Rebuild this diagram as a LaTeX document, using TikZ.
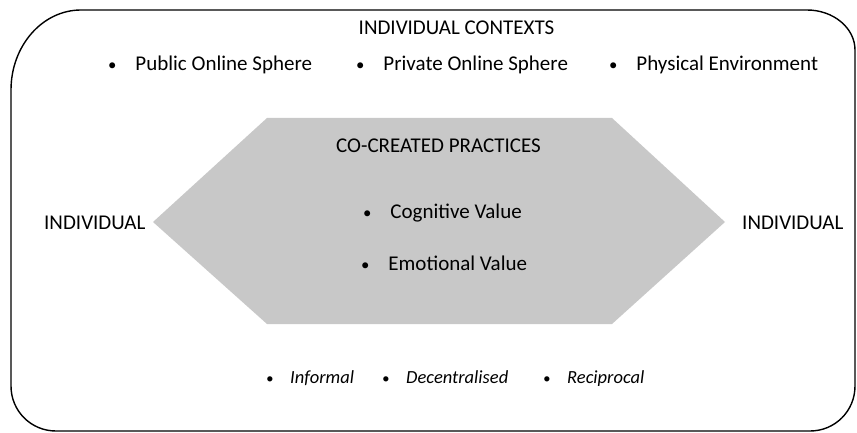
\documentclass[tikz,border=0pt]{standalone}
\usepackage{fontspec}
\setmainfont{Carlito}
\definecolor{HexGrey}{RGB}{200,200,200}
\tikzstyle{none}=[inner sep=0pt,font=\fontsize{21}{25}\selectfont]
\tikzstyle{quality}=[inner sep=0pt,font=\fontsize{18.5}{22}\selectfont\itshape]
\tikzstyle{frame}=[draw=black,line width=1.4pt]
\tikzstyle{hexagon}=[fill=HexGrey,draw=none]
\newcommand{\itm}{\scalebox{0.8}{\textbullet}\hspace{0.9em}}
\pgfdeclarelayer{edgelayer}
\pgfdeclarelayer{nodelayer}
\pgfsetlayers{edgelayer,nodelayer,main}

\begin{document}
\begin{tikzpicture}[x=1pt,y=-1pt]
	\useasboundingbox (0,0) rectangle (857,433);
	\begin{pgfonlayer}{nodelayer}
		\node [style=none, anchor=base] (0) at (456.5, 35) {INDIVIDUAL CONTEXTS};
		\node [style=none, anchor=base west] (1) at (108, 71) {\itm Public Online Sphere};
		\node [style=none, anchor=base west] (2) at (356, 71) {\itm Private Online Sphere};
		\node [style=none, anchor=base west] (3) at (609, 71) {\itm Physical Environment};
		\node [style=none, anchor=base] (4) at (438.5, 153) {CO-CREATED PRACTICES};
		\node [style=none, anchor=base west] (5) at (363, 218) {\itm Cognitive Value};
		\node [style=none, anchor=base west] (6) at (361, 270) {\itm Emotional Value};
		\node [style=none, anchor=base west] (7) at (44, 229) {INDIVIDUAL};
		\node [style=none, anchor=base west] (8) at (742, 229) {INDIVIDUAL};
		\node [style=quality, anchor=base west] (9) at (266, 383) {\itm Informal};
		\node [style=quality, anchor=base west] (10) at (382, 383) {\itm Decentralised};
		\node [style=quality, anchor=base west] (11) at (543, 383) {\itm Reciprocal};
	\end{pgfonlayer}
	\begin{pgfonlayer}{edgelayer}
		% the co-created practices hexagon
		\coordinate (h0) at (153, 222);
		\coordinate (h1) at (267, 118);
		\coordinate (h2) at (612, 118);
		\coordinate (h3) at (725, 222);
		\coordinate (h4) at (612, 324);
		\coordinate (h5) at (267, 324);
		\fill [style=hexagon] (h0) -- (h1) -- (h2) -- (h3) -- (h4) -- (h5) -- cycle;

		% outer frame, corners drawn by hand (top left one is wider)
		\draw [style=frame] (81, 10) -- (807, 10)
			.. controls (833.5, 10) and (855, 28) .. (855, 50) -- (855, 386)
			.. controls (855, 411) and (835, 431) .. (810, 431) -- (56, 431)
			.. controls (31, 431) and (11, 411) .. (11, 386) -- (11, 90)
			.. controls (11, 45.8) and (42.4, 10) .. cycle;
	\end{pgfonlayer}
\end{tikzpicture}
\end{document}
